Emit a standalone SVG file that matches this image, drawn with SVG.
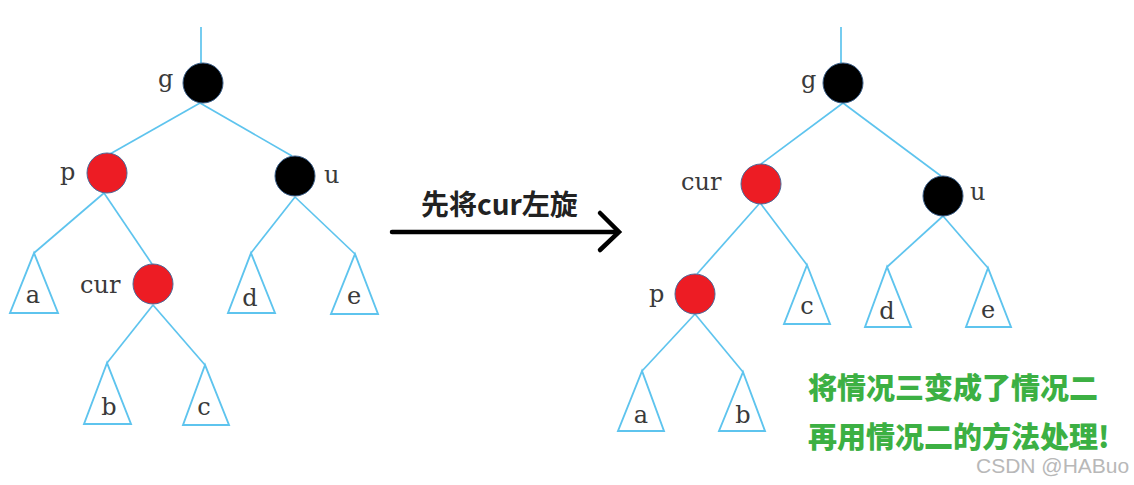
<svg xmlns="http://www.w3.org/2000/svg" width="1134" height="485" viewBox="0 0 1134 485">
<style>
.edge{stroke:#5ec4ee;stroke-width:1.7;fill:none}
.tri{stroke:#5ec4ee;stroke-width:1.9;fill:#fff;stroke-linejoin:miter}
.red{fill:#ed1c24;stroke:#4a6a9a;stroke-width:1}
.blk{fill:#000;stroke:#3a5f8a;stroke-width:1}
.lbl{font-family:"DejaVu Serif","Liberation Serif",serif;font-size:24px;fill:#3a3a3a}
.tl{font-family:"DejaVu Serif","Liberation Serif",serif;font-size:24px;fill:#3a3a3a;text-anchor:middle}
.cap{font-family:"Noto Sans CJK SC","Noto Sans",sans-serif;font-weight:bold;font-size:28px;fill:#222}
.green{font-family:"Noto Sans CJK SC","Noto Sans",sans-serif;font-weight:900;font-size:29px;fill:#3cb043}
.wm{font-family:"Liberation Sans",Arial,sans-serif;font-size:21px;fill:#b8b8b8}
</style>
<rect width="1134" height="485" fill="#fff"/>
<g id="connectors">
<line class="edge" x1="201" y1="27" x2="201" y2="64"/>
<line class="edge" x1="200" y1="103" x2="110" y2="154"/>
<line class="edge" x1="200" y1="103" x2="292" y2="156"/>
<line class="edge" x1="104" y1="193" x2="34" y2="253"/>
<line class="edge" x1="104" y1="193" x2="152" y2="264"/>
<line class="edge" x1="295" y1="197" x2="251" y2="253"/>
<line class="edge" x1="295" y1="197" x2="355" y2="254"/>
<line class="edge" x1="153" y1="305" x2="107" y2="363"/>
<line class="edge" x1="153" y1="305" x2="205" y2="365"/>
<line class="edge" x1="841" y1="27" x2="841" y2="64"/>
<line class="edge" x1="843" y1="103" x2="761" y2="164"/>
<line class="edge" x1="843" y1="103" x2="941" y2="176"/>
<line class="edge" x1="759" y1="204" x2="697" y2="274"/>
<line class="edge" x1="761" y1="204" x2="807" y2="265"/>
<line class="edge" x1="943" y1="216" x2="887" y2="267"/>
<line class="edge" x1="943" y1="216" x2="988" y2="268"/>
<line class="edge" x1="695" y1="314" x2="642" y2="371"/>
<line class="edge" x1="695" y1="314" x2="743" y2="372"/>
</g>
<g id="left-g"><circle class="blk" cx="203" cy="83" r="20"/><text class="lbl" x="158" y="87">g</text></g>
<g id="left-p"><circle class="red" cx="107" cy="173" r="20"/><text class="lbl" x="60" y="180">p</text></g>
<g id="left-u"><circle class="blk" cx="295" cy="176" r="20"/><text class="lbl" x="324" y="183">u</text></g>
<g id="left-cur"><circle class="red" cx="153" cy="284" r="20"/><text class="lbl" x="80" y="293">cur</text></g>
<g id="left-a"><polygon class="tri" points="34,253 10,313 58,313"/><text class="tl" x="33" y="303">a</text></g>
<g id="left-b"><polygon class="tri" points="107,363 84,424 131,424"/><text class="tl" x="109" y="415">b</text></g>
<g id="left-c"><polygon class="tri" points="205,365 183,425 229,425"/><text class="tl" x="204" y="415">c</text></g>
<g id="left-d"><polygon class="tri" points="251,253 228,313 275,313"/><text class="tl" x="250" y="306">d</text></g>
<g id="left-e"><polygon class="tri" points="355,254 331,314 378,314"/><text class="tl" x="354" y="304">e</text></g>
<g id="arrow">
<line x1="392" y1="232" x2="617" y2="232" stroke="#000" stroke-width="4.5" stroke-linecap="round"/>
<polyline points="600,213 619,232 600,250" fill="none" stroke="#000" stroke-width="4.5" stroke-linecap="round" stroke-linejoin="miter"/>
<text class="cap" x="421" y="215">先将cur左旋</text>
</g>
<g id="right-g"><circle class="blk" cx="843" cy="83" r="20"/><text class="lbl" x="801" y="88">g</text></g>
<g id="right-cur"><circle class="red" cx="761" cy="184" r="20"/><text class="lbl" x="681" y="190">cur</text></g>
<g id="right-u"><circle class="blk" cx="943" cy="196" r="20"/><text class="lbl" x="970" y="200">u</text></g>
<g id="right-p"><circle class="red" cx="695" cy="294" r="20"/><text class="lbl" x="649" y="302">p</text></g>
<g id="right-c"><polygon class="tri" points="807,265 784,324 830,324"/><text class="tl" x="807" y="314">c</text></g>
<g id="right-d"><polygon class="tri" points="887,267 865,327 911,327"/><text class="tl" x="887" y="319">d</text></g>
<g id="right-e"><polygon class="tri" points="988,268 966,327 1011,327"/><text class="tl" x="988" y="318">e</text></g>
<g id="right-a"><polygon class="tri" points="642,371 618,431 664,431"/><text class="tl" x="641" y="423">a</text></g>
<g id="right-b"><polygon class="tri" points="743,372 719,431 765,431"/><text class="tl" x="743" y="423">b</text></g>
<g id="note">
<text class="green" x="808" y="399">将情况三变成了情况二</text>
<text class="green" x="808" y="448">再用情况二的方法处理!</text>
</g>
<text class="wm" x="976" y="473">CSDN @HABuo</text>
</svg>
